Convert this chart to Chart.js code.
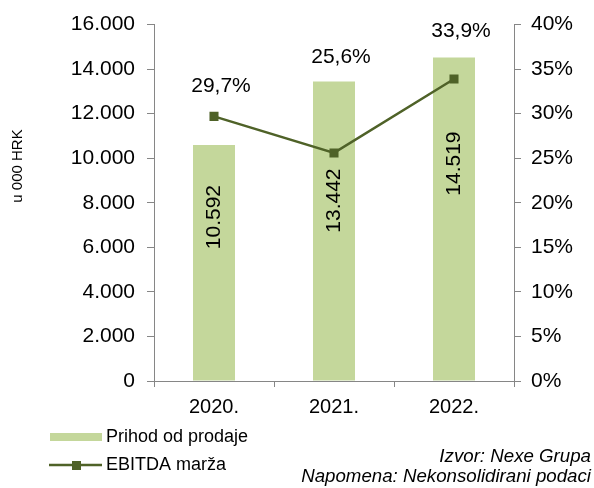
<!DOCTYPE html>
<html>
<head>
<meta charset="utf-8">
<script src="https://cdn.jsdelivr.net/npm/chart.js@4/dist/chart.umd.min.js"></script>
<style>
  html, body { margin: 0; padding: 0; background: #fff; }
  #wrap { width: 594px; height: 488px; }
</style>
</head>
<body>
<div id="wrap"><canvas id="chart"></canvas></div>
<script>
const years        = ['2020.', '2021.', '2022.'];
const revenue      = [10592, 13442, 14519];
const ebitdaMargin = [29.7, 25.6, 33.9];
const revTicks     = [0, 2000, 4000, 6000, 8000, 10000, 12000, 14000, 16000];
const pctTicks     = [0, 5, 10, 15, 20, 25, 30, 35, 40];

const FONT = '"Liberation Sans", Arial, sans-serif';
const BAR_COLOR  = '#c4d79b';
const LINE_COLOR = '#4f6228';
const AXIS_COLOR = '#868686';

const thousands = v => String(v).replace(/\B(?=(\d{3})+(?!\d))/g, '.');
const pct       = v => v.toFixed(1).replace('.', ',') + '%';

// value labels, y-axis title, legend and source notes
const extras = {
  id: 'extras',
  afterDatasetsDraw(chart, args, opts) {
    const ctx = chart.ctx;
    ctx.save();
    ctx.fillStyle = '#000';
    ctx.font = `21px ${FONT}`;
    ctx.textAlign = 'center';
    ctx.textBaseline = 'middle';

    chart.getDatasetMeta(0).data.forEach((b, i) => {
      ctx.save();
      ctx.translate(b.x, b.y + opts.barLabelDy[i]);
      ctx.rotate(-Math.PI / 2);
      ctx.fillText(thousands(revenue[i]), 0, 0);
      ctx.restore();
    });

    chart.getDatasetMeta(1).data.forEach((p, i) => {
      ctx.fillText(pct(ebitdaMargin[i]), p.x + 7, p.y + opts.lineLabelDy[i]);
    });
    ctx.restore();
  },
  afterDraw(chart) {
    const ctx = chart.ctx;
    const ds  = chart.data.datasets;
    ctx.save();
    ctx.fillStyle = '#000';

    // y-axis title
    ctx.font = `15px ${FONT}`;
    ctx.textAlign = 'center';
    ctx.textBaseline = 'middle';
    ctx.save();
    ctx.translate(18, 166);
    ctx.rotate(-Math.PI / 2);
    ctx.fillText('u 000 HRK', 0, 0);
    ctx.restore();

    // legend
    ctx.fillStyle = ds[0].backgroundColor;
    ctx.fillRect(50, 433, 52, 8);
    ctx.strokeStyle = ds[1].borderColor;
    ctx.lineWidth = 2.5;
    ctx.beginPath();
    ctx.moveTo(49, 465);
    ctx.lineTo(102, 465);
    ctx.stroke();
    ctx.fillStyle = ds[1].pointBackgroundColor;
    ctx.fillRect(72, 461, 9, 9);

    ctx.fillStyle = '#000';
    ctx.font = `18px ${FONT}`;
    ctx.textAlign = 'left';
    ctx.fillText(ds[0].label, 106, 437);
    ctx.fillText(ds[1].label, 106, 465);

    // source notes
    ctx.font = `italic 18.7px ${FONT}`;
    ctx.textAlign = 'right';
    ctx.fillText('Izvor: Nexe Grupa', 591, 457);
    ctx.fillText('Napomena: Nekonsolidirani podaci', 591, 477);
    ctx.restore();
  }
};

new Chart(document.getElementById('chart'), {
  data: {
    labels: years,
    datasets: [
      {
        type: 'bar',
        label: 'Prihod od prodaje',
        data: revenue,
        yAxisID: 'y',
        backgroundColor: BAR_COLOR,
        barPercentage: 0.35,
        categoryPercentage: 1,
        order: 1,
      },
      {
        type: 'line',
        label: 'EBITDA marža',
        data: ebitdaMargin,
        yAxisID: 'y1',
        borderColor: LINE_COLOR,
        borderWidth: 2.5,
        pointStyle: 'rect',
        pointRadius: 6.4,
        pointBackgroundColor: LINE_COLOR,
        pointBorderColor: LINE_COLOR,
        pointBorderWidth: 0,
        tension: 0,
        order: 0,
      },
    ],
  },
  options: {
    responsive: true,
    maintainAspectRatio: false,
    animation: false,
    layout: { padding: { top: 21, left: 0, right: 0, bottom: 0 } },
    plugins: {
      legend:  { display: false },
      tooltip: { enabled: false },
      extras: {
        barLabelDy:  [72, 119, 106],
        lineLabelDy: [-30, -96, -48],
      },
    },
    scales: {
      x: {
        offset: true,
        grid:   { offset: true, drawOnChartArea: false, tickLength: 6, color: AXIS_COLOR },
        border: { color: AXIS_COLOR, width: 1 },
        ticks:  { color: '#000', font: { family: FONT, size: 20 }, padding: 8 },
        afterFit: s => { s.height = 107; },
      },
      y: {
        position: 'left',
        min: 0, max: 16000,
        afterBuildTicks: s => { s.ticks = revTicks.map(v => ({ value: v })); },
        grid:   { drawOnChartArea: false, tickLength: 7, color: AXIS_COLOR },
        border: { color: AXIS_COLOR, width: 1 },
        ticks:  { color: '#000', font: { family: FONT, size: 21 }, padding: 12, callback: v => thousands(v) },
        afterFit: s => { s.width = 154; },
      },
      y1: {
        position: 'right',
        min: 0, max: 40,
        afterBuildTicks: s => { s.ticks = pctTicks.map(v => ({ value: v })); },
        grid:   { drawOnChartArea: false, tickLength: 7, color: AXIS_COLOR },
        border: { color: AXIS_COLOR, width: 1 },
        ticks:  { color: '#000', font: { family: FONT, size: 21 }, padding: 10, callback: v => v + '%' },
        afterFit: s => { s.width = 80; },
      },
    },
  },
  plugins: [extras],
});
</script>
</body>
</html>
